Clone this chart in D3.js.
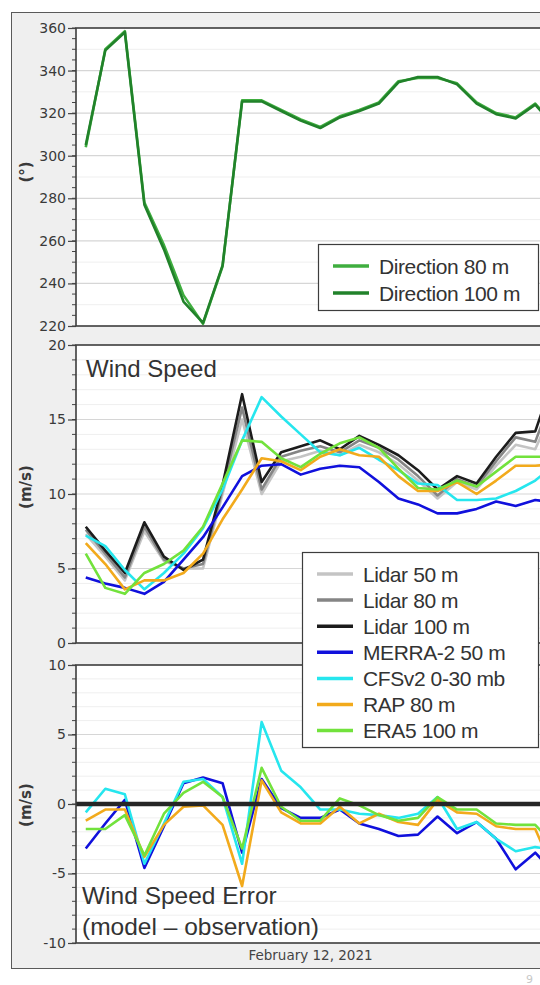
<!DOCTYPE html>
<html>
<head>
<meta charset="utf-8">
<script src="https://cdn.jsdelivr.net/npm/d3@7"></script>
<style>
  body { margin: 0; background: #fff; }
  svg { display: block; }
  .tick text { font-family: "DejaVu Sans", Verdana, sans-serif; font-size: 14px; fill: #3a3a3a; }
</style>
</head>
<body>
<div id="chart"></div>
<script>
// hours after midnight, Feb 12 2021 (hourly values centred on the half hour)
const hours = [0.5, 1.5, 2.5, 3.5, 4.5, 5.5, 6.5, 7.5, 8.5, 9.5, 10.5, 11.5, 12.5,
  13.5, 14.5, 15.5, 16.5, 17.5, 18.5, 19.5, 20.5, 21.5, 22.5, 23.5, 24.5];

// wind direction (deg)
const dir80 = [304, 350, 358.5, 278, 258, 234.5, 221, 248, 326, 326, 321.5, 317, 313.5,
  318.5, 321.5, 325, 335, 336.5, 336.5, 334, 325, 320, 318, 324.5, 314];
const dir100 = [305, 349.5, 358, 277, 256, 231.5, 221.5, 248.5, 325.5, 325.5, 321, 316.5, 313,
  318, 321, 324.5, 334.5, 337, 337, 333.5, 324.5, 319.5, 317.5, 324, 313.5];

// wind speed (m/s)
const lidar50 = [7.3, 5.8, 4.2, 7.5, 5.5, 5.0, 5.0, 10.0, 15.0, 10.0, 12.2, 12.5, 12.9,
  12.6, 13.3, 12.8, 12.0, 10.9, 9.7, 10.8, 10.3, 11.9, 13.3, 13.0, 16.0];
const lidar80 = [7.6, 6.0, 4.4, 7.8, 5.6, 5.0, 5.3, 10.3, 15.8, 10.3, 12.5, 12.9, 13.2,
  12.8, 13.6, 13.1, 12.3, 11.2, 9.9, 11.0, 10.5, 12.2, 13.8, 13.5, 17.0];
const lidar100 = [7.8, 6.2, 4.7, 8.1, 5.8, 4.9, 5.6, 10.6, 16.7, 10.8, 12.8, 13.2, 13.6,
  13.0, 13.9, 13.3, 12.6, 11.6, 10.3, 11.2, 10.7, 12.5, 14.1, 14.2, 18.0];
const merra2 = [4.4, 4.0, 3.7, 3.3, 4.1, 5.6, 7.1, 9.1, 11.2, 11.9, 12.0, 11.3, 11.7,
  11.9, 11.8, 10.8, 9.7, 9.3, 8.7, 8.7, 9.0, 9.5, 9.2, 9.6, 9.4];
const cfsv2 = [7.2, 6.5, 4.9, 3.6, 4.7, 6.0, 7.7, 10.3, 13.6, 16.5, 15.2, 14.0, 12.8,
  12.6, 13.1, 12.3, 11.6, 10.7, 10.6, 9.6, 9.6, 9.7, 10.2, 10.9, 12.0];
const rap = [6.7, 5.3, 3.6, 4.2, 4.2, 4.7, 6.0, 8.3, 10.3, 12.4, 12.2, 11.6, 12.5,
  13.0, 12.6, 12.5, 11.2, 10.2, 10.2, 10.8, 10.0, 10.9, 11.9, 11.9, 12.0];
const era5 = [6.0, 3.7, 3.3, 4.7, 5.3, 6.2, 7.8, 10.7, 13.6, 13.5, 12.4, 11.8, 12.7,
  13.4, 13.8, 13.1, 11.7, 10.4, 10.3, 10.9, 10.5, 11.5, 12.5, 12.5, 12.5];

// wind speed error, model - observation (m/s)
const errMerra2 = [-3.2, -1.4, 0.3, -4.6, -1.6, 1.5, 1.9, 1.5, -3.5, 1.8, -0.3, -1.0, -1.0,
  -0.4, -1.4, -1.8, -2.3, -2.2, -0.9, -2.1, -1.3, -2.5, -4.7, -3.5, -5.0];
const errCfsv2 = [-0.6, 1.1, 0.7, -4.3, -1.4, 1.6, 1.8, 0.5, -4.3, 5.9, 2.4, 1.2, -0.4,
  -0.4, -0.7, -0.8, -1.0, -0.7, 0.5, -1.8, -1.3, -2.5, -3.4, -3.1, -3.3];
const errRap = [-1.2, -0.4, -0.4, -3.8, -1.5, -0.2, -0.1, -1.5, -5.9, 1.7, -0.6, -1.4, -1.4,
  -0.2, -1.4, -0.7, -1.3, -1.5, 0.3, -0.6, -0.7, -1.6, -1.8, -1.8, -5.0];
const errEra5 = [-1.8, -1.8, -0.8, -3.7, -0.7, 0.8, 1.6, 0.5, -3.2, 2.6, -0.2, -1.2, -1.2,
  0.4, -0.1, -0.8, -1.2, -1.0, 0.5, -0.4, -0.4, -1.4, -1.5, -1.5, -3.0];

const dirTicks = [220, 240, 260, 280, 300, 320, 340, 360];
const speedTicks = [0, 5, 10, 15, 20];
const errTicks = [-10, -5, 0, 5, 10];
const dateLabel = 'February 12, 2021';

const W = 540, H = 985;
const left = 76, plotRight = 640;

const svg = d3.select('#chart').append('svg')
  .attr('width', W)
  .attr('height', H);

// outer gray frame
svg.append('rect')
  .attr('x', 11.5).attr('y', 12.5)
  .attr('width', 700).attr('height', 956)
  .attr('fill', '#efefef')
  .attr('stroke', '#5a5a5a');

const x = d3.scaleLinear().domain([0, 24]).range([left, 545]);

function panel(id, domain, top, bottom, ticks, minorStep, gridStep, label, labelY) {
  const y = d3.scaleLinear().domain(domain).range([bottom, top]);
  const g = svg.append('g');

  g.append('rect')
    .attr('x', left).attr('y', top)
    .attr('width', plotRight - left).attr('height', bottom - top)
    .attr('fill', '#fff');

  // light grid
  g.selectAll('line.minor')
    .data(d3.range(domain[0], domain[1] + 1e-9, gridStep).filter(v => !ticks.includes(v)))
    .join('line')
    .attr('x1', left).attr('x2', plotRight)
    .attr('y1', d => y(d)).attr('y2', d => y(d))
    .attr('stroke', '#efefef').attr('stroke-width', 1);

  g.selectAll('line.major')
    .data(ticks.slice(1, -1))
    .join('line')
    .attr('x1', left).attr('x2', plotRight)
    .attr('y1', d => y(d)).attr('y2', d => y(d))
    .attr('stroke', '#d6d6d6').attr('stroke-width', 1.2);

  svg.append('clipPath').attr('id', id)
    .append('rect')
    .attr('x', left).attr('y', top)
    .attr('width', plotRight - left).attr('height', bottom - top);

  // minor ticks
  g.selectAll('line.mtick')
    .data(d3.range(domain[0], domain[1] + 1e-9, minorStep))
    .join('line')
    .attr('x1', left - 4).attr('x2', left)
    .attr('y1', d => y(d)).attr('y2', d => y(d))
    .attr('stroke', '#444');

  const ax = g.append('g')
    .attr('transform', `translate(${left},0)`)
    .call(d3.axisLeft(y).tickValues(ticks).tickSize(8).tickSizeOuter(0).tickPadding(2)
      .tickFormat(d => String(d)));
  ax.select('.domain').remove();
  ax.selectAll('.tick line').attr('stroke', '#444').attr('stroke-width', 1.2);

  svg.append('text')
    .attr('transform', `translate(31,${labelY}) rotate(-90)`)
    .attr('text-anchor', 'middle')
    .attr('font-family', '"DejaVu Sans", Verdana, sans-serif')
    .attr('font-weight', 'bold')
    .attr('font-size', 15)
    .attr('fill', '#3a3a3a')
    .text(label);

  const lines = svg.append('g').attr('clip-path', `url(#${id})`);
  const frame = () => svg.append('rect')
    .attr('x', left).attr('y', top)
    .attr('width', plotRight - left).attr('height', bottom - top)
    .attr('fill', 'none')
    .attr('stroke', '#3d3d3d').attr('stroke-width', 1.6);

  return { y, lines, frame };
}

function drawLines(p, series, width) {
  const line = d3.line()
    .x((d, i) => x(hours[i]))
    .y(d => p.y(d));
  series.forEach(s => {
    p.lines.append('path')
      .attr('d', line(s.values))
      .attr('fill', 'none')
      .attr('stroke', s.color)
      .attr('stroke-width', width)
      .attr('stroke-linejoin', 'round');
  });
}

function legend(box, items, rowY0, rowStep) {
  const g = svg.append('g');
  g.append('rect')
    .attr('x', box.x + 0.5).attr('y', box.y + 0.5)
    .attr('width', box.w).attr('height', box.h)
    .attr('fill', '#fff').attr('stroke', '#3d3d3d').attr('stroke-width', 1.2);
  items.forEach((it, i) => {
    const yy = rowY0 + i * rowStep;
    g.append('line')
      .attr('x1', box.x + 15).attr('x2', box.x + 51)
      .attr('y1', yy).attr('y2', yy)
      .attr('stroke', it.color).attr('stroke-width', 3.5);
    g.append('text')
      .attr('x', box.x + 61).attr('y', yy + 7.5)
      .attr('font-family', '"Liberation Sans", Arial, sans-serif')
      .attr('font-size', 21)
      .attr('letter-spacing', -0.4)
      .attr('fill', '#333')
      .text(it.name);
  });
}

// ---- panel 1: direction
const p1 = panel('c1', [220, 360], 28, 326, dirTicks, 5, 10, '(°)', 172);
const dirSeries = [
  { name: 'Direction 80 m', values: dir80, color: '#3fae3f' },
  { name: 'Direction 100 m', values: dir100, color: '#21822a' },
];
drawLines(p1, dirSeries, 2.6);
p1.frame();

// ---- panel 2: wind speed
const p2 = panel('c2', [0, 20], 345, 643, speedTicks, 1, 1, '(m/s)', 487);
const speedSeries = [
  { name: 'Lidar 50 m', values: lidar50, color: '#c4c4c4' },
  { name: 'Lidar 80 m', values: lidar80, color: '#858585' },
  { name: 'Lidar 100 m', values: lidar100, color: '#1c1c1c' },
  { name: 'MERRA-2 50 m', values: merra2, color: '#1010dc' },
  { name: 'CFSv2 0-30 mb', values: cfsv2, color: '#26e6ee' },
  { name: 'RAP 80 m', values: rap, color: '#f2aa1c' },
  { name: 'ERA5 100 m', values: era5, color: '#72e23c' },
];
drawLines(p2, speedSeries, 2.6);
p2.frame();
svg.append('text')
  .attr('x', 86).attr('y', 377)
  .attr('font-family', '"Liberation Sans", Arial, sans-serif')
  .attr('font-size', 24).attr('fill', '#333')
  .text('Wind Speed');

// ---- panel 3: error
const p3 = panel('c3', [-10, 10], 665, 943, errTicks, 1, 1, '(m/s)', 805);
const errSeries = [
  { values: errMerra2, color: '#1010dc' },
  { values: errCfsv2, color: '#26e6ee' },
  { values: errRap, color: '#f2aa1c' },
  { values: errEra5, color: '#72e23c' },
];
drawLines(p3, errSeries, 2.6);
p3.lines.append('line')
  .attr('x1', left).attr('x2', plotRight)
  .attr('y1', p3.y(0)).attr('y2', p3.y(0))
  .attr('stroke', '#262626').attr('stroke-width', 4.5);
p3.frame();
const errTitle = svg.append('text')
  .attr('font-family', '"Liberation Sans", Arial, sans-serif')
  .attr('font-size', 24.5).attr('fill', '#333');
errTitle.append('tspan').attr('x', 82).attr('y', 904).text('Wind Speed Error');
errTitle.append('tspan').attr('x', 82).attr('y', 935).text('(model \u2013 observation)');

// date axis label
svg.append('text')
  .attr('x', x(12)).attr('y', 960)
  .attr('text-anchor', 'middle')
  .attr('font-family', '"DejaVu Sans", Verdana, sans-serif')
  .attr('font-size', 13.5).attr('fill', '#444')
  .text(dateLabel);

// legends on top
legend({ x: 318, y: 244, w: 220, h: 66 }, dirSeries, 266, 27);
legend({ x: 302, y: 552, w: 236, h: 195 }, speedSeries, 574, 26.1);

// page mark
svg.append('text')
  .attr('x', 526).attr('y', 983)
  .attr('font-family', '"DejaVu Sans", sans-serif')
  .attr('font-size', 11).attr('fill', '#c8c8c8')
  .text('9');
</script>
</body>
</html>
